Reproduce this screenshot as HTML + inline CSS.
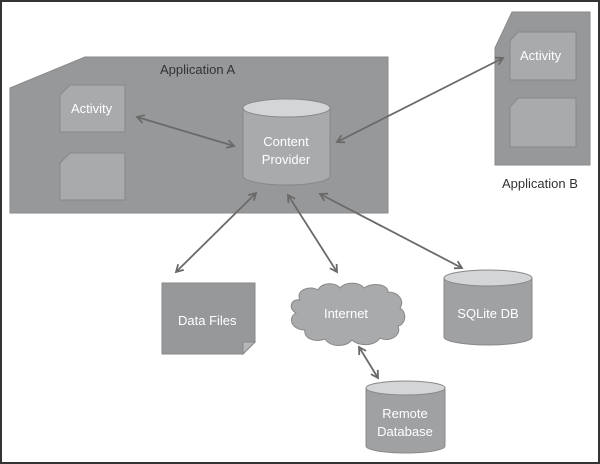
<!DOCTYPE html>
<html><head><style>
html,body{margin:0;padding:0;background:#fff}
svg{display:block}
text{font-family:"Liberation Sans",sans-serif;font-size:13px}
</style></head><body>
<svg width="600" height="464" viewBox="0 0 600 464">
<defs>
<marker id="a" markerWidth="10" markerHeight="10" refX="8" refY="5" orient="auto-start-reverse" markerUnits="userSpaceOnUse">
<path d="M1,1 L8,5 L1,9" fill="none" stroke="#6a6a6a" stroke-width="1.8"/>
</marker>
</defs>
<rect x="1" y="1" width="598" height="462" fill="#fff" stroke="#333" stroke-width="2"/>
<!-- App A -->
<polygon points="10,88 85,57 388,57 388,213 10,213" fill="#97989a" stroke="#8a8a8a"/>
<text x="160" y="74" fill="#333">Application A</text>
<polygon points="70,85 125,85 125,132 60,132 60,95" fill="#a9aaac" stroke="#888"/>
<text x="71" y="113" fill="#fff">Activity</text>
<polygon points="70,153 125,153 125,200 60,200 60,163" fill="#a9aaac" stroke="#888"/>
<!-- CP -->
<path d="M243,108 V176 A43.5,9 0 0 0 330,176 V108" fill="#a9aaac" stroke="#888"/>
<ellipse cx="286.5" cy="108" rx="43.5" ry="9" fill="#d4d5d6" stroke="#888"/>
<text x="286" y="146" fill="#fff" text-anchor="middle">Content</text>
<text x="286" y="164" fill="#fff" text-anchor="middle">Provider</text>
<!-- App B -->
<polygon points="495,48 512,12 590,12 590,165 495,165" fill="#97989a" stroke="#8a8a8a"/>
<polygon points="518,32 576,32 576,80 510,80 510,41" fill="#a9aaac" stroke="#888"/>
<text x="520" y="60" fill="#fff">Activity</text>
<polygon points="518,98 576,98 576,147 510,147 510,107" fill="#a9aaac" stroke="#888"/>
<text x="502" y="188" fill="#333">Application B</text>
<!-- arrows -->
<g stroke="#6a6a6a" stroke-width="1.8" marker-start="url(#a)" marker-end="url(#a)">
<line x1="137" y1="117" x2="234" y2="146"/>
<line x1="337" y1="142" x2="503" y2="58"/>
<line x1="256" y1="193" x2="176" y2="272"/>
<line x1="288" y1="195" x2="337" y2="272"/>
<line x1="320" y1="194" x2="462" y2="268"/>
<line x1="359" y1="347" x2="378" y2="378"/>
</g>
<!-- Data files -->
<polygon points="162,283 255,283 255,342 243,354 162,354" fill="#97989a" stroke="#888"/>
<polygon points="243,354 243,342 255,342" fill="#b5b6b8" stroke="#888"/>
<text x="178" y="325" fill="#fff">Data Files</text>
<!-- cloud -->
<path d="M300,300 C295,290 310,285 318,290 C322,282 335,282 340,288 C346,281 360,282 364,288 C372,282 388,284 388,292 C398,292 405,300 400,308 C408,313 405,325 398,326 C402,335 390,343 380,338 C374,347 358,346 352,340 C345,348 330,347 325,339 C315,343 303,338 305,330 C292,330 287,318 296,313 C287,308 292,298 300,300 Z" fill="#a9aaac" stroke="#888"/>
<text x="346" y="318" fill="#fff" text-anchor="middle">Internet</text>
<!-- SQLite -->
<path d="M444,278 V337 A44,8 0 0 0 532,337 V278" fill="#a0a1a3" stroke="#888"/>
<ellipse cx="488" cy="278" rx="44" ry="8" fill="#d4d5d6" stroke="#888"/>
<text x="488" y="318" fill="#fff" text-anchor="middle">SQLite DB</text>
<!-- Remote -->
<path d="M366,388 V446 A39.5,7 0 0 0 445,446 V388" fill="#a0a1a3" stroke="#888"/>
<ellipse cx="405.5" cy="388" rx="39.5" ry="7" fill="#d4d5d6" stroke="#888"/>
<text x="405" y="418" fill="#fff" text-anchor="middle">Remote</text>
<text x="405" y="436" fill="#fff" text-anchor="middle">Database</text>
</svg>
</body></html>
